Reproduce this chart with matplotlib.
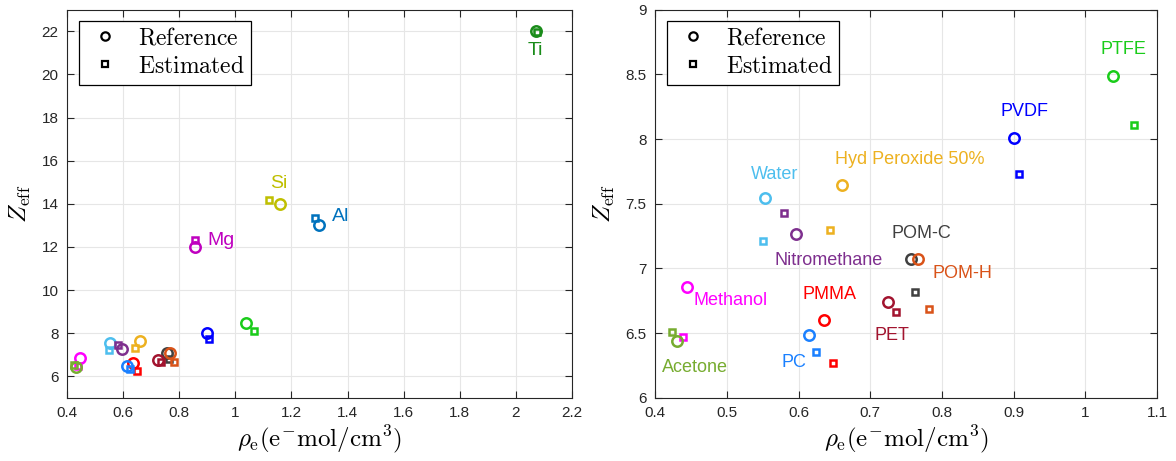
import matplotlib
matplotlib.use("Agg")
import matplotlib.pyplot as plt
from matplotlib.lines import Line2D
from matplotlib.ticker import FuncFormatter

plt.rcParams["font.family"] = ["Liberation Sans", "DejaVu Sans"]
plt.rcParams["mathtext.fontset"] = "cm"

# compounds (shown in both panels)
names = ["PTFE", "PVDF", "Hyd Peroxide 50%", "Water", "Nitromethane", "POM-C",
         "POM-H", "PET", "PMMA", "PC", "Methanol", "Acetone"]
rho_ref = [1.039, 0.900, 0.660, 0.553, 0.596, 0.757, 0.767, 0.725, 0.635, 0.615, 0.445, 0.431]
z_ref = [8.49, 8.01, 7.648, 7.544, 7.27, 7.075, 7.075, 6.738, 6.605, 6.485, 6.856, 6.436]
rho_est = [1.068, 0.907, 0.644, 0.551, 0.580, 0.763, 0.782, 0.736, 0.648, 0.625, 0.439, 0.424]
z_est = [8.108, 7.73, 7.30, 7.21, 7.43, 6.815, 6.685, 6.664, 6.267, 6.354, 6.467, 6.508]
colors = [(0.1, 0.8, 0.1), (0, 0, 1), (0.929, 0.694, 0.125), (0.302, 0.745, 0.933),
          (0.494, 0.184, 0.556), (0.25, 0.25, 0.25), (0.851, 0.325, 0.098),
          (0.635, 0.078, 0.184), (1, 0, 0), (0.1, 0.5, 1), (1, 0, 1),
          (0.466, 0.674, 0.188)]
label_xy = [(1.021, 8.69), (0.881, 8.21), (0.651, 7.84), (0.534, 7.73), (0.566, 7.06),
            (0.729, 7.27), (0.787, 6.96), (0.706, 6.485), (0.606, 6.795),
            (0.576, 6.277), (0.454, 6.75), (0.409, 6.238)]

# elements (left panel only)
el_names = ["Ti", "Si", "Al", "Mg"]
el_rho_ref = [2.070, 1.160, 1.299, 0.857]
el_z_ref = [22.0, 14.0, 13.0, 12.0]
el_rho_est = [2.075, 1.121, 1.285, 0.857]
el_z_est = [21.98, 14.16, 13.33, 12.31]
el_colors = [(0.1, 0.55, 0.1), (0.75, 0.75, 0), (0, 0.447, 0.741), (0.75, 0, 0.75)]
el_label_xy = [(2.042, 21.09), (1.123, 14.92), (1.344, 13.43), (0.902, 12.28)]

fig = plt.figure(figsize=(11.76, 4.61), dpi=100)
ax1 = fig.add_axes([0.057, 0.137, 0.4294, 0.842])
ax2 = fig.add_axes([0.557, 0.137, 0.427, 0.842])

circ = dict(marker="o", ms=7.5, mew=1.8, mfc="none", ls="none")
sq = dict(marker="s", ms=5, mew=1.8, mfc="none", ls="none")


def style(ax):
    ax.grid(True, color=(0.9, 0.9, 0.9), lw=0.8)
    ax.set_axisbelow(True)
    ax.tick_params(direction="in", top=True, right=True, length=5, width=0.8,
                   labelsize=11, colors=(0.15, 0.15, 0.15), pad=6)
    for s in ax.spines.values():
        s.set_color((0.15, 0.15, 0.15))
        s.set_linewidth(0.8)
    ax.xaxis.set_major_formatter(FuncFormatter(lambda v, p: "%g" % round(v, 3)))
    ax.yaxis.set_major_formatter(FuncFormatter(lambda v, p: "%g" % round(v, 3)))
    ax.set_xlabel(r"$\rho_{\mathrm{e}}(\mathrm{e}^{-}\mathrm{mol/cm}^3)$", fontsize=18, labelpad=2)
    ax.set_ylabel(r"$Z_{\mathrm{eff}}$", fontsize=18, labelpad=6)
    handles = [Line2D([], [], color="k", marker="o", ms=6, mew=1.6, mfc="none", ls="none"),
               Line2D([], [], color="k", marker="s", ms=5, mew=1.6, mfc="none", ls="none")]
    leg = ax.legend(handles, [r"$\mathrm{Reference}$", r"$\mathrm{Estimated}$"],
                    loc="upper left", bbox_to_anchor=(0.023, 0.972), borderaxespad=0,
                    fontsize=17, fancybox=False, framealpha=1, edgecolor="k",
                    handlelength=1.6, handletextpad=0.6, borderpad=0.3,
                    labelspacing=0.25)
    leg.get_frame().set_linewidth(0.9)


# left panel: all materials
for i in range(len(names)):
    ax1.plot(rho_ref[i], z_ref[i], color=colors[i], **circ)
    ax1.plot(rho_est[i], z_est[i], color=colors[i], **sq)
for i in range(len(el_names)):
    ax1.plot(el_rho_ref[i], el_z_ref[i], color=el_colors[i], **circ)
    ax1.plot(el_rho_est[i], el_z_est[i], color=el_colors[i], **sq)
    ax1.text(el_label_xy[i][0], el_label_xy[i][1], el_names[i], color=el_colors[i],
             fontsize=14, ha="left", va="center")
ax1.set_xlim(0.4, 2.2)
ax1.set_ylim(5, 23)
ax1.set_xticks([0.4 + 0.2 * k for k in range(10)])
ax1.set_yticks(range(6, 23, 2))
style(ax1)

# right panel: zoom on compounds
for i in range(len(names)):
    ax2.plot(rho_ref[i], z_ref[i], color=colors[i], **circ)
    ax2.plot(rho_est[i], z_est[i], color=colors[i], **sq)
    ax2.text(label_xy[i][0], label_xy[i][1], names[i], color=colors[i],
             fontsize=13, ha="left", va="center")
ax2.set_xlim(0.4, 1.1)
ax2.set_ylim(6, 9)
ax2.set_xticks([0.4 + 0.1 * k for k in range(8)])
ax2.set_yticks([6 + 0.5 * k for k in range(7)])
style(ax2)

fig.savefig("out.png", dpi=100)
